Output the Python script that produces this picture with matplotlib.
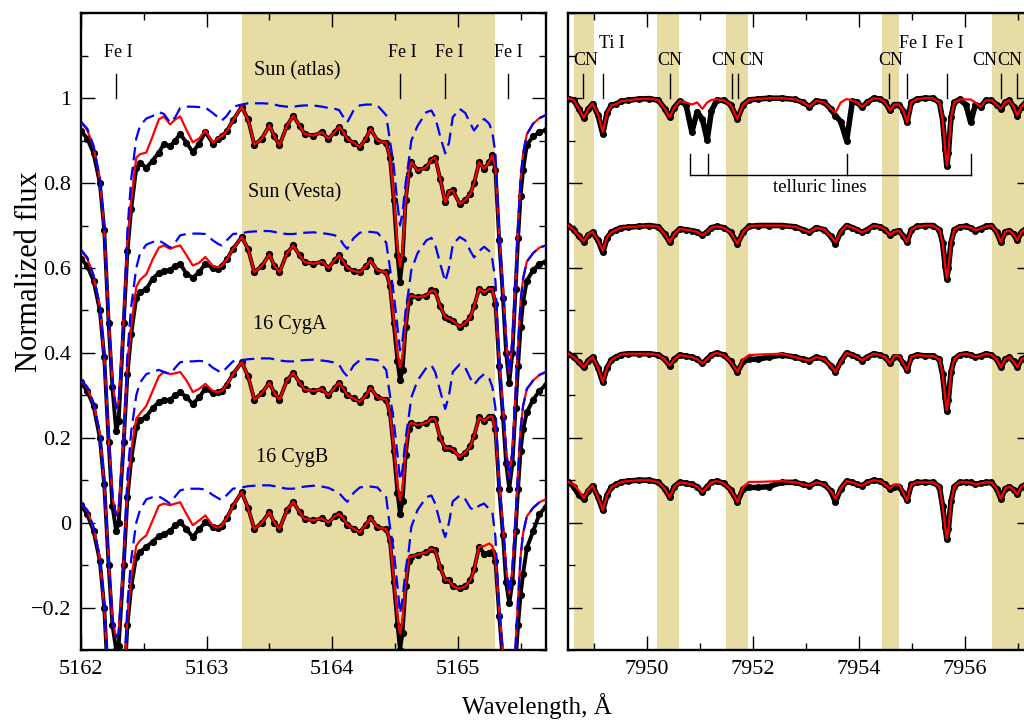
import matplotlib
matplotlib.use("Agg")
import matplotlib.pyplot as plt
import numpy as np
from matplotlib.ticker import FixedLocator, MultipleLocator, FuncFormatter

plt.rcParams["font.family"] = ["Liberation Serif", "DejaVu Serif"]

# ---------------- data: left panel (Fe I 5162-5166 A) ----------------
offsets = [0.0, -0.3, -0.6, -0.9]
star_labels = ["Sun (atlas)", "Sun (Vesta)", "16 CygA", "16 CygB"]

wl_b = [5162.00, 5162.05, 5162.10, 5162.15, 5162.185, 5162.22, 5162.25, 5162.28, 5162.30, 5162.34,
        5162.37, 5162.40, 5162.44, 5162.47, 5162.52, 5162.57, 5162.62, 5162.66, 5162.71, 5162.75,
        5162.79, 5162.84, 5162.89, 5162.94, 5162.99, 5163.05, 5163.09, 5163.12, 5163.16, 5163.21,
        5163.28, 5163.33, 5163.38, 5163.44, 5163.50, 5163.54, 5163.58, 5163.64, 5163.69, 5163.74,
        5163.78, 5163.85, 5163.92, 5163.97, 5164.02, 5164.055, 5164.09, 5164.12, 5164.17, 5164.22,
        5164.27, 5164.305, 5164.36, 5164.43, 5164.46, 5164.49, 5164.52, 5164.54, 5164.56, 5164.585,
        5164.61, 5164.63, 5164.68, 5164.75, 5164.79, 5164.82, 5164.86, 5164.90, 5164.93, 5164.96,
        5165.015, 5165.06, 5165.10, 5165.13, 5165.17, 5165.21, 5165.25, 5165.275, 5165.30, 5165.33,
        5165.36, 5165.385, 5165.41, 5165.435, 5165.46, 5165.48, 5165.50, 5165.52, 5165.55, 5165.60,
        5165.65, 5165.70]

atlas_obs_b = [.923, .905, .870, .800, .690, .470, .320, .215, .240, .470,
               .640, .740, .835, .848, .836, .853, .872, .892, .887, .900,
               .916, .895, .873, .893, .920, .893, .903, .910, .922, .948,
               .980, .950, .890, .905, .936, .910, .889, .935, .959, .935,
               .916, .912, .920, .904, .920, .933, .920, .904, .895, .885,
               .905, .928, .900, .895, .860, .760, .630, .567, .620, .760,
               .822, .849, .830, .837, .855, .860, .810, .755, .780, .783,
               .751, .760, .775, .800, .849, .834, .850, .865, .830, .665,
               .530, .400, .330, .400, .550, .670, .770, .830, .890, .910,
               .920, .925]
atlas_fit_b = [.943, .925, .885, .810, .690, .480, .330, .270, .285, .480,
               .660, .760, .860, .868, .872, .910, .950, .957, .938, .950,
               .957, .925, .896, .905, .924, .895, .905, .910, .922, .948,
               .980, .950, .890, .905, .936, .910, .889, .935, .959, .935,
               .916, .912, .920, .904, .920, .933, .920, .904, .895, .885,
               .905, .928, .900, .895, .860, .770, .650, .602, .640, .760,
               .830, .849, .830, .837, .855, .860, .810, .755, .780, .783,
               .751, .760, .775, .800, .849, .834, .850, .865, .835, .670,
               .550, .430, .352, .430, .570, .700, .810, .870, .915, .940,
               .953, .960]
atlas_nocn_b = [.945, .928, .888, .812, .690, .480, .330, .270, .285, .480,
                .690, .810, .905, .935, .952, .958, .967, .963, .942, .955,
                .977, .980, .980, .979, .978, .965, .955, .947, .958, .980,
                .985, .988, .988, .988, .987, .985, .982, .980, .980, .982,
                .983, .983, .980, .977, .975, .972, .955, .943, .971, .983,
                .985, .985, .983, .960, .900, .840, .750, .700, .730, .800,
                .853, .900, .935, .967, .971, .955, .910, .870, .895, .955,
                .975, .965, .940, .924, .940, .951, .940, .920, .870, .670,
                .550, .430, .352, .430, .570, .700, .810, .870, .915, .940,
                .953, .960]

vesta_obs_b = [.922, .905, .870, .800, .690, .490, .340, .280, .300, .490,
               .650, .745, .830, .843, .850, .875, .888, .894, .895, .905,
               .910, .886, .877, .890, .910, .900, .898, .905, .920, .945,
               .973, .945, .890, .905, .932, .905, .890, .935, .953, .930,
               .914, .910, .915, .900, .918, .930, .915, .900, .893, .890,
               .905, .918, .894, .890, .858, .770, .680, .635, .660, .760,
               .820, .835, .831, .835, .847, .845, .810, .784, .780, .776,
               .761, .770, .784, .810, .851, .843, .851, .850, .816, .670,
               .550, .440, .380, .440, .570, .670, .760, .820, .870, .895,
               .910, .915]
vesta_fit_b = [.941, .922, .880, .810, .690, .500, .360, .317, .330, .500,
               .670, .765, .855, .872, .885, .920, .948, .953, .945, .950,
               .953, .930, .906, .912, .926, .905, .902, .905, .920, .945,
               .973, .945, .890, .905, .932, .905, .890, .935, .953, .930,
               .914, .910, .915, .900, .918, .930, .915, .900, .893, .890,
               .905, .918, .894, .890, .858, .780, .700, .666, .690, .770,
               .830, .835, .831, .835, .847, .845, .810, .784, .780, .776,
               .761, .770, .784, .810, .851, .843, .851, .850, .820, .680,
               .570, .470, .404, .470, .600, .720, .820, .875, .915, .935,
               .948, .953]
vesta_nocn_b = [.943, .925, .883, .810, .690, .500, .360, .317, .330, .500,
                .700, .810, .900, .934, .955, .961, .965, .958, .948, .960,
                .977, .980, .981, .981, .980, .965, .957, .953, .965, .980,
                .982, .985, .986, .987, .987, .985, .982, .980, .980, .982,
                .983, .984, .982, .980, .977, .972, .955, .945, .970, .983,
                .985, .985, .983, .960, .900, .840, .760, .706, .730, .800,
                .850, .895, .935, .965, .971, .955, .910, .868, .900, .955,
                .973, .965, .940, .925, .940, .950, .940, .920, .870, .680,
                .570, .470, .404, .470, .600, .720, .820, .875, .915, .935,
                .948, .953]

cyga_obs_b = [.931, .910, .875, .800, .690, .500, .360, .300, .310, .500,
              .660, .750, .825, .841, .850, .870, .884, .888, .890, .900,
              .908, .895, .880, .895, .916, .905, .908, .910, .925, .950,
              .978, .945, .890, .905, .930, .905, .890, .935, .953, .930,
              .914, .910, .915, .900, .918, .930, .915, .900, .893, .885,
              .900, .918, .895, .890, .858, .770, .670, .620, .650, .760,
              .820, .835, .830, .835, .845, .845, .800, .775, .776, .772,
              .755, .765, .780, .805, .848, .840, .850, .850, .820, .680,
              .570, .460, .410, .460, .580, .680, .770, .820, .860, .890,
              .910, .925]
cyga_fit_b = [.935, .918, .880, .810, .690, .510, .370, .330, .340, .510,
              .680, .770, .845, .857, .875, .910, .945, .955, .950, .952,
              .955, .935, .908, .915, .927, .910, .908, .910, .925, .950,
              .978, .945, .890, .905, .930, .905, .890, .935, .953, .930,
              .914, .910, .915, .900, .918, .930, .915, .900, .893, .885,
              .900, .918, .895, .890, .858, .780, .690, .653, .680, .770,
              .830, .835, .830, .835, .845, .845, .800, .775, .776, .772,
              .755, .765, .780, .805, .848, .840, .850, .850, .820, .690,
              .590, .490, .433, .490, .610, .720, .820, .875, .915, .935,
              .948, .955]
cyga_nocn_b = [.936, .920, .883, .810, .690, .510, .370, .330, .340, .510,
               .710, .815, .900, .930, .950, .955, .960, .955, .950, .965,
               .978, .980, .980, .981, .980, .965, .958, .953, .965, .980,
               .983, .985, .986, .987, .987, .985, .982, .980, .980, .982,
               .983, .984, .982, .980, .977, .972, .955, .945, .970, .983,
               .985, .985, .983, .960, .900, .840, .760, .700, .725, .800,
               .850, .895, .935, .965, .971, .955, .910, .868, .900, .955,
               .973, .965, .940, .925, .940, .950, .940, .920, .870, .690,
               .590, .490, .433, .490, .610, .720, .820, .875, .915, .935,
               .948, .955]

cygb_obs_b = [.941, .920, .880, .810, .700, .500, .360, .300, .310, .500,
              .660, .750, .820, .831, .843, .855, .868, .874, .880, .895,
              .901, .885, .866, .885, .901, .890, .888, .893, .910, .940,
              .972, .935, .885, .900, .925, .900, .885, .930, .949, .925,
              .909, .906, .910, .900, .915, .921, .910, .895, .886, .878,
              .895, .912, .889, .885, .858, .760, .660, .600, .640, .750,
              .810, .820, .825, .830, .839, .835, .795, .764, .765, .750,
              .745, .750, .764, .790, .843, .827, .828, .830, .810, .680,
              .570, .460, .410, .460, .570, .660, .730, .780, .840, .880,
              .920, .937]
cygb_fit_b = [.945, .928, .888, .815, .700, .510, .370, .330, .340, .510,
              .680, .770, .845, .858, .870, .905, .940, .945, .941, .945,
              .948, .920, .894, .905, .917, .893, .888, .893, .910, .940,
              .972, .935, .885, .900, .925, .900, .885, .930, .949, .925,
              .909, .906, .910, .900, .915, .921, .910, .895, .886, .878,
              .895, .912, .889, .885, .858, .770, .680, .639, .670, .760,
              .820, .820, .825, .830, .839, .835, .795, .764, .765, .750,
              .745, .750, .764, .790, .843, .845, .851, .845, .815, .690,
              .590, .490, .433, .490, .610, .720, .820, .875, .915, .935,
              .948, .955]
cygb_nocn_b = [.946, .930, .890, .815, .700, .510, .370, .330, .340, .510,
               .710, .815, .900, .930, .955, .960, .962, .955, .945, .962,
               .976, .980, .980, .980, .978, .965, .958, .953, .965, .980,
               .983, .986, .987, .988, .988, .986, .983, .980, .980, .983,
               .985, .987, .985, .982, .975, .970, .958, .949, .970, .983,
               .985, .985, .983, .960, .890, .835, .750, .686, .720, .790,
               .835, .890, .930, .960, .964, .945, .900, .866, .900, .950,
               .964, .955, .935, .929, .940, .945, .932, .925, .866, .690,
               .590, .490, .433, .490, .610, .720, .820, .875, .915, .935,
               .948, .955]

# ---------------- data: right panel (CN region 7948.5-7957.3 A) ----------------
wl_r = [7948.52, 7948.62, 7948.72, 7948.81, 7948.90, 7948.98, 7949.08, 7949.17, 7949.25, 7949.33,
        7949.42, 7949.52, 7949.65, 7949.85, 7950.05, 7950.22, 7950.34, 7950.43, 7950.52, 7950.62,
        7950.74, 7950.85, 7950.95, 7951.05, 7951.14, 7951.22, 7951.32, 7951.45, 7951.58, 7951.71,
        7951.82, 7951.93, 7952.10, 7952.30, 7952.55, 7952.80, 7952.95, 7953.07, 7953.20, 7953.35,
        7953.47, 7953.56, 7953.66, 7953.77, 7953.88, 7953.97, 7954.06, 7954.16, 7954.28, 7954.40,
        7954.50, 7954.59, 7954.67, 7954.76, 7954.84, 7954.91, 7954.99, 7955.10, 7955.25, 7955.40,
        7955.52, 7955.58, 7955.63, 7955.66, 7955.69, 7955.74, 7955.80, 7955.90, 7956.02, 7956.11,
        7956.20, 7956.30, 7956.40, 7956.50, 7956.60, 7956.68, 7956.76, 7956.84, 7956.92, 7956.99,
        7957.07, 7957.15, 7957.25]

atlas_obs_r = [.999, .996, .975, .954, .975, .987, .960, .916, .965, .983,
               .986, .993, .995, .998, .999, .995, .975, .955, .978, .993,
               .985, .920, .968, .950, .902, .970, .995, .995, .985, .951,
               .985, .996, .998, 1.00, 1.00, .997, .990, .980, .994, .990,
               .975, .959, .945, .900, .993, .990, .979, .990, 1.00, .998,
               .990, .971, .985, .985, .970, .943, .990, .998, 1.00, 1.00,
               .990, .950, .880, .841, .870, .955, .990, .997, .985, .943,
               .985, .980, .995, .995, .985, .975, .990, .995, .980, .959,
               .980, .990, .995]
atlas_fit_r = [1.00, .996, .975, .954, .975, .987, .962, .920, .965, .983,
               .986, .993, .995, .998, .999, .995, .975, .955, .978, .993,
               .990, .985, .990, .975, .990, .996, .997, .995, .985, .951,
               .985, .996, .998, 1.00, 1.00, .997, .990, .980, .994, .990,
               .975, .966, .990, .998, .995, .990, .979, .990, 1.00, .998,
               .990, .971, .985, .985, .970, .943, .990, .998, 1.00, 1.00,
               .990, .950, .880, .841, .870, .955, .990, .997, .997, .997,
               .990, .980, .995, .995, .985, .975, .990, .995, .980, .959,
               .980, .990, .995]

vesta_obs_r = [1.00, .990, .975, .962, .978, .984, .965, .937, .970, .984,
               .990, .995, .996, .998, 1.00, .997, .980, .961, .980, .992,
               .990, .988, .985, .977, .985, .995, .998, .995, .985, .957,
               .985, .998, 1.00, 1.00, 1.00, .997, .990, .984, .995, .990,
               .975, .957, .985, 1.00, .995, .990, .984, .990, 1.00, .997,
               .990, .977, .985, .988, .975, .961, .990, .998, 1.00, 1.00,
               .990, .960, .905, .875, .900, .960, .990, .997, .998, .995,
               .988, .993, .998, 1.00, .985, .961, .985, .988, .980, .965,
               .985, .992, .995]
vesta_fit_r = [1.00, .990, .975, .963, .980, .985, .965, .941, .972, .984,
               .990, .995, .996, .998, 1.00, .997, .980, .961, .980, .992,
               .990, .988, .985, .977, .985, .995, .998, .995, .985, .957,
               .985, .998, 1.00, 1.00, 1.00, .997, .990, .984, .995, .990,
               .975, .961, .985, 1.00, .995, .990, .984, .990, 1.00, .997,
               .990, .977, .985, .988, .975, .961, .990, .998, 1.00, 1.00,
               .990, .960, .905, .875, .900, .960, .990, .997, .998, .995,
               .988, .993, .998, 1.00, .985, .961, .985, .988, .980, .965,
               .985, .992, .995]

cyga_obs_r = [.998, .990, .978, .966, .982, .990, .965, .931, .965, .983,
              .990, .996, .998, .998, .998, .995, .985, .970, .985, .995,
              .992, .990, .985, .975, .985, .995, 1.00, .995, .980, .955,
              .980, .985, .985, .990, .995, .990, .985, .982, .990, .985,
              .970, .955, .980, 1.00, .995, .990, .982, .990, .998, .995,
              .990, .975, .990, .990, .975, .959, .990, .995, .993, .993,
              .985, .950, .895, .864, .890, .955, .985, .995, .998, .995,
              .990, .993, .998, .995, .985, .966, .985, .990, .980, .966,
              .985, .990, .995]
cyga_fit_r = [.998, .990, .978, .966, .982, .990, .965, .931, .965, .983,
              .990, .996, .998, .998, .998, .995, .985, .970, .985, .995,
              .992, .990, .985, .975, .985, .995, 1.00, .995, .980, .955,
              .985, .995, .996, .997, .998, .990, .985, .982, .990, .985,
              .970, .955, .980, 1.00, .995, .990, .982, .990, .998, .995,
              .990, .975, .993, .993, .975, .959, .990, .995, .993, .993,
              .985, .950, .895, .864, .890, .955, .985, .995, .998, .995,
              .990, .993, .998, .995, .985, .966, .985, .990, .980, .966,
              .985, .990, .995]

cygb_obs_r = [.996, .985, .965, .956, .975, .987, .960, .929, .965, .983,
              .990, .996, .998, 1.00, 1.00, .995, .980, .960, .985, .995,
              .993, .990, .985, .972, .985, .995, .998, .993, .978, .949,
              .980, .983, .983, .985, .995, .995, .990, .987, .995, .990,
              .975, .949, .980, .998, .995, .990, .987, .995, 1.00, .998,
              .990, .980, .985, .985, .970, .9525, .990, .995, .995, .995,
              .985, .940, .890, .862, .885, .950, .985, .995, .995, .995,
              .990, .993, .995, .995, .980, .956, .980, .985, .978, .967,
              .985, .990, .995]
cygb_fit_r = [.996, .990, .975, .958, .978, .987, .960, .929, .965, .983,
              .990, .996, .998, 1.00, 1.00, .995, .980, .960, .985, .995,
              .993, .990, .985, .972, .985, .995, .998, .993, .978, .949,
              .985, .996, .996, .997, .998, .995, .990, .987, .995, .990,
              .975, .956, .980, .998, .995, .990, .987, .995, 1.00, .998,
              .990, .980, .990, .990, .970, .9525, .990, .995, .995, .995,
              .985, .940, .890, .862, .885, .950, .985, .995, .995, .995,
              .990, .993, .995, .995, .980, .956, .980, .985, .978, .967,
              .985, .990, .995]

# line identifications and shaded windows
fe_lines_b = [5162.276, 5164.543, 5164.901, 5165.400]
fe_label_x_b = [5162.294, 5164.56, 5164.93, 5165.40]
shade_b = [(5163.283, 5165.30)]

id_lines_r = [7948.804, 7949.181, 7950.44, 7951.604, 7951.717, 7954.577, 7954.911, 7955.660, 7956.679, 7956.992]
id_labels_r = ["CN", "Ti I", "CN", "CN", "CN", "CN", "Fe I", "Fe I", "CN", "CN"]
id_label_x_r = [7948.845, 7949.35, 7950.44, 7951.46, 7951.98, 7954.61, 7955.02, 7955.71, 7956.38, 7956.84]
shade_r = [(7948.634, 7949.004), (7950.19, 7950.61), (7951.49, 7951.91), (7954.44, 7954.75), (7956.52, 7957.30)]
telluric_r = [7950.82, 7951.15, 7953.77, 7956.12]

SHADE = "#e6dca4"
RED = "#ff0000"
BLUE = "#0000ff"

left_b = [(atlas_obs_b, atlas_fit_b, atlas_nocn_b), (vesta_obs_b, vesta_fit_b, vesta_nocn_b),
          (cyga_obs_b, cyga_fit_b, cyga_nocn_b), (cygb_obs_b, cygb_fit_b, cygb_nocn_b)]
right_r = [(atlas_obs_r, atlas_fit_r), (vesta_obs_r, vesta_fit_r),
           (cyga_obs_r, cyga_fit_r), (cygb_obs_r, cygb_fit_r)]


def style_axes(ax):
    for sp in ax.spines.values():
        sp.set_linewidth(1.7)
    ax.tick_params(which="both", direction="in", top=True, right=True, width=1.0, labelsize=16, pad=7)
    ax.tick_params(which="major", length=10)
    ax.tick_params(which="minor", length=5)


def minus_fmt(v, pos):
    return f"{v:g}".replace("-", "\u2212")


fig = plt.figure(figsize=(10.24, 7.22), dpi=100)
ax1 = fig.add_axes([0.0791, 0.0997, 0.4538, 0.8819])
ax2 = fig.add_axes([0.5550, 0.0997, 0.4519, 0.8819])

# left panel
for a, b in shade_b:
    ax1.axvspan(a, b, color=SHADE, lw=0, zorder=0)
wl = np.asarray(wl_b)
for off, (obs, fit, nocn) in zip(offsets, left_b):
    ax1.plot(wl, np.asarray(obs) + off, color="black", lw=2.8, marker="o", ms=4.2, zorder=2)
    ax1.plot(wl, np.asarray(fit) + off, color=RED, lw=1.6, zorder=3)
    ax1.plot(wl, np.asarray(nocn) + off, color=BLUE, lw=1.6, ls=(0, (6, 3)), zorder=4)

for x in fe_lines_b:
    ax1.plot([x, x], [1.0, 1.058], color="black", lw=1)
for x in fe_label_x_b:
    ax1.text(x, 1.107, "Fe I", ha="center", va="center", fontsize=13)
ax1.text(5163.718, 1.065, "Sun (atlas)", ha="center", va="center", fontsize=14.5)
ax1.text(5163.70, 0.778, "Sun (Vesta)", ha="center", va="center", fontsize=14.5)
ax1.text(5163.66, 0.467, "16 CygA", ha="center", va="center", fontsize=14.5)
ax1.text(5163.68, 0.154, "16 CygB", ha="center", va="center", fontsize=14.5)

ax1.set_xlim(5162.0, 5165.70)
ax1.set_ylim(-0.3, 1.2)
ax1.xaxis.set_major_locator(MultipleLocator(1))
ax1.xaxis.set_minor_locator(MultipleLocator(0.5))
ax1.yaxis.set_major_locator(FixedLocator([-0.2, 0, 0.2, 0.4, 0.6, 0.8, 1.0]))
ax1.yaxis.set_minor_locator(MultipleLocator(0.1))
ax1.yaxis.set_major_formatter(FuncFormatter(minus_fmt))
ax1.xaxis.set_major_formatter(FuncFormatter(lambda v, p: f"{v:.0f}"))
style_axes(ax1)

# right panel
for a, b in shade_r:
    ax2.axvspan(a, b, color=SHADE, lw=0, zorder=0)
wr = np.asarray(wl_r)
for off, (obs, fit) in zip(offsets, right_r):
    ax2.plot(wr, np.asarray(obs) + off, color="black", lw=4, marker="o", ms=4, zorder=2)
    ax2.plot(wr, np.asarray(fit) + off, color=RED, lw=1.6, zorder=3)

for x in id_lines_r:
    ax2.plot([x, x], [1.0, 1.058], color="black", lw=1)
for x, lab in zip(id_label_x_r, id_labels_r):
    yy = 1.129 if lab in ("Ti I", "Fe I") else 1.089
    ax2.text(x, yy, lab, ha="center", va="center", fontsize=13)

ax2.plot([telluric_r[0], telluric_r[-1]], [0.82, 0.82], color="black", lw=1)
for x in telluric_r:
    ax2.plot([x, x], [0.82, 0.869], color="black", lw=1)
ax2.text(7953.27, 0.79, "telluric lines", ha="center", va="center", fontsize=13.5)

ax2.set_xlim(7948.52, 7957.25)
ax2.set_ylim(-0.3, 1.2)
ax2.xaxis.set_major_locator(MultipleLocator(2))
ax2.xaxis.set_minor_locator(MultipleLocator(1))
ax2.yaxis.set_major_locator(FixedLocator([-0.2, 0, 0.2, 0.4, 0.6, 0.8, 1.0]))
ax2.yaxis.set_minor_locator(MultipleLocator(0.1))
ax2.set_yticklabels([])
ax2.xaxis.set_major_formatter(FuncFormatter(lambda v, p: f"{v:.0f}"))
style_axes(ax2)
ax2.tick_params(labelleft=False)

fig.text(30 / 1024, 1 - 272 / 722, "Normalized flux", rotation=90, ha="center", va="center", fontsize=22)
fig.text(537 / 1024, 1 - 706 / 722, "Wavelength, \u00c5", ha="center", va="center", fontsize=18)

fig.savefig("out.png", dpi=100)
